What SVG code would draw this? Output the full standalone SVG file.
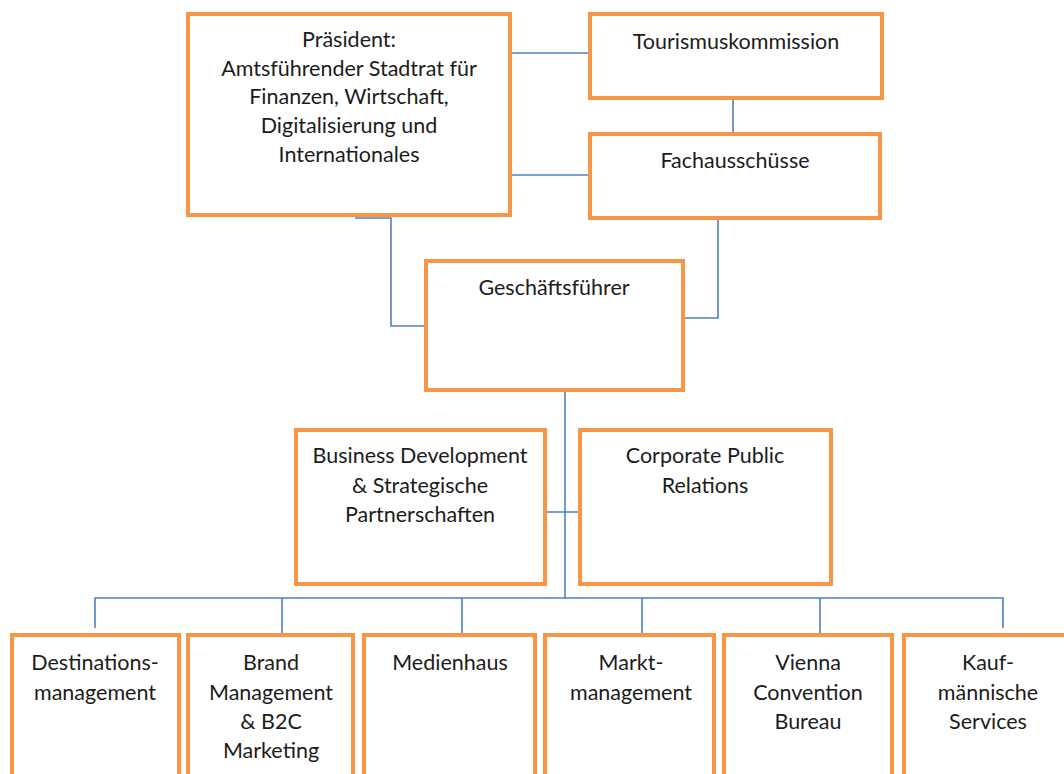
<svg xmlns="http://www.w3.org/2000/svg" width="1064" height="774" viewBox="0 0 1064 774">
<style>
.box{fill:#fff;stroke:#F79646;stroke-width:4}
.ln{fill:none;stroke:#4F81BD;stroke-width:1.6}
text{font-family:Lato,"Liberation Sans",sans-serif;font-size:21.5px;fill:#1c1c1c;text-anchor:middle}
</style>
<rect width="1064" height="774" fill="#fff"/>
<g id="connectors">
<path class="ln" d="M510,53 H590"/>
<path class="ln" d="M510,175 H590"/>
<path class="ln" d="M733,98 V134"/>
<path class="ln" d="M355,218 H391 V326 H426"/>
<path class="ln" d="M755,218 H718 V318 H683"/>
<path class="ln" d="M565,390 V598"/>
<path class="ln" d="M545,512 H580"/>
<path class="ln" d="M95,628 V598 H1003 V628"/>
<path class="ln" d="M282,598 V635 M462,598 V635 M642,598 V635 M820,598 V635"/>
</g>
<g id="praesident"><rect class="box" x="188" y="14" width="322" height="201"/>
<text x="349" y="47">Präsident:</text><text x="349" y="76">Amtsführender Stadtrat für</text><text x="349" y="104">Finanzen, Wirtschaft,</text><text x="349" y="133">Digitalisierung und</text><text x="349" y="162">Internationales</text></g>
<g id="tourismus"><rect class="box" x="590" y="14" width="292" height="84"/><text x="736" y="49">Tourismuskommission</text></g>
<g id="fach"><rect class="box" x="590" y="134" width="290" height="84"/><text x="735" y="168">Fachausschüsse</text></g>
<g id="gf"><rect class="box" x="426" y="261" width="257" height="129"/><text x="554" y="295">Geschäftsführer</text></g>
<g id="bd"><rect class="box" x="296" y="430" width="249" height="154"/><text x="420" y="463">Business Development</text><text x="420" y="493">&amp; Strategische</text><text x="420" y="522">Partnerschaften</text></g>
<g id="cpr"><rect class="box" x="580" y="430" width="251" height="154"/><text x="705" y="463">Corporate Public</text><text x="705" y="493">Relations</text></g>
<g id="dest"><rect class="box" x="12" y="635" width="167" height="170"/><text x="95" y="670">Destinations-</text><text x="95" y="700">management</text></g>
<g id="brand"><rect class="box" x="188" y="635" width="165" height="170"/><text x="271" y="670">Brand</text><text x="271" y="700">Management</text><text x="271" y="729">&amp; B2C</text><text x="271" y="758">Marketing</text></g>
<g id="medien"><rect class="box" x="364" y="635" width="171" height="170"/><text x="450" y="670">Medienhaus</text></g>
<g id="markt"><rect class="box" x="545" y="635" width="169" height="170"/><text x="631" y="670">Markt-</text><text x="631" y="700">management</text></g>
<g id="vienna"><rect class="box" x="724" y="635" width="168" height="170"/><text x="808" y="670">Vienna</text><text x="808" y="700">Convention</text><text x="808" y="729">Bureau</text></g>
<g id="kauf"><rect class="box" x="904" y="635" width="168" height="170"/><text x="988" y="670">Kauf-</text><text x="988" y="700">männische</text><text x="988" y="729">Services</text></g>
</svg>
